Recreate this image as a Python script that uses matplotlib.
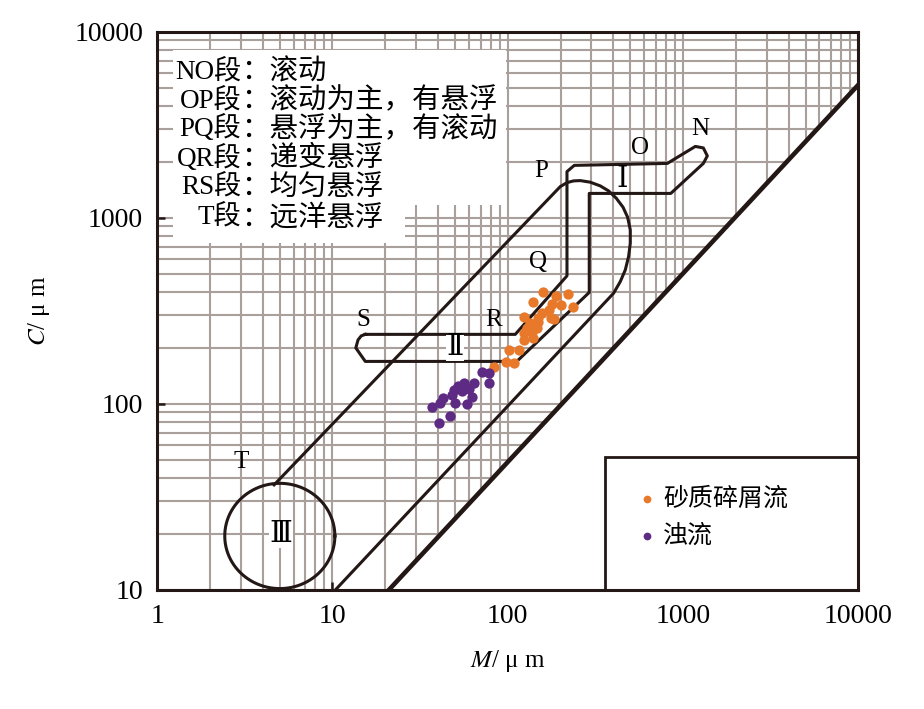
import numpy as np
import matplotlib.pyplot as plt
from matplotlib.patches import Rectangle

plt.rcParams['font.family'] = ['Liberation Serif', 'DejaVu Serif', 'Noto Sans CJK SC']
plt.rcParams['mathtext.fontset'] = 'stix'

# sample points (M, C in um)
sand_m = [158.8, 189.1, 220.6, 138.5, 178.7, 202.0, 234.3, 171.0, 156.7, 124.2, 147.9, 176.4, 184.2,
          133.2, 148.7, 128.7, 146.7, 123.1, 137.4, 124.2, 139.3, 101.1, 115.2, 98.0, 108.9, 83.0]
sand_c = [401.6, 380.7, 390.3, 352.3, 343.6, 339.4, 331.1, 320.3, 307.4, 294.7, 288.9, 288.9, 286.4,
          271.6, 277.0, 255.3, 255.3, 239.9, 244.7, 220.9, 227.3, 195.1, 195.1, 168.8, 166.7, 158.7]
turb_m = [71.3, 78.7, 77.7, 56.5, 51.7, 63.8, 49.1, 54.8, 59.8, 48.0, 62.5, 43.0, 50.2, 58.5,
          41.2, 36.9, 47.0, 40.8]
turb_c = [149.2, 147.3, 130.2, 130.2, 125.0, 130.2, 118.9, 117.9, 120.0, 111.8, 109.4, 107.3, 101.6, 99.6,
          101.6, 96.7, 86.5, 78.7]

# NOPQRS outline (fields I and II)
seg_m = [15.4, 110.4, 217.7, 217.7, 239.6, 813, 1175, 1305, 1375, 1305, 851, 291.7, 291.7, 112.6,
         15.4, 13.6, 14.0, 14.6, 15.4]
seg_c = [236.5, 236.5, 487.9, 1774, 1916, 1963, 2423, 2378, 2154, 1963, 1354, 1354, 397.6, 169.2,
         169.2, 200, 220.8, 232.1, 236.5]

# outer envelope
env_m = [4.65, 199.3, 217.7, 237.4, 259.2, 295.6, 337.2, 376.0, 415.9, 454.4, 482.7, 500, 500, 489,
         468.3, 438.5, 401.6, 10.4]
env_c = [36.7, 1473, 1548, 1581, 1587, 1556, 1486, 1397, 1276, 1142, 1009, 862, 731, 620,
         525.3, 454.5, 393.7, 10]

# boundary line
bound_m = [21, 10000]
bound_c = [10, 5200]

# field III circle (log centre / radii)
circ_lm, circ_lc = 0.70, 1.29
circ_rm, circ_rc = 0.314, 0.283

seg_labels = ['N', 'O', 'P', 'Q', 'R', 'S', 'T']
seg_lab_m = [1254, 570, 155.3, 149.3, 82.7, 14.98, 3.01]
seg_lab_c = [3010, 2378, 1789, 580, 282.8, 282.8, 48.8]

field_labels = ['Ⅰ', 'Ⅱ', 'Ⅲ']
field_m = [450, 50.2, 5.1]
field_c = [1601, 200, 19.8]

note_pre = ['NO段', 'OP段', 'PQ段', 'QR段', 'RS段', 'T段']
note_txt = ['：滚动', '：滚动为主，有悬浮', '：悬浮为主，有滚动', '：递变悬浮', '：均匀悬浮', '：远洋悬浮']

dark = '#231815'

fig = plt.figure(figsize=(9.24, 7.09), dpi=100)
ax = fig.add_axes([0.170, 0.168, 0.759, 0.787])
ax.set_xscale('log')
ax.set_yscale('log')
ax.set_xlim(1, 10000)
ax.set_ylim(10, 10000)
ax.set_axisbelow(True)
ax.grid(which='both', color='#a99f9b', linewidth=1.5)

# white area under boundary line
ax.fill([bound_m[0], bound_m[1], bound_m[1]], [bound_c[0], bound_c[1], bound_c[0]],
        color='white', zorder=1, lw=0)

# white background of notes
ax.add_patch(Rectangle((0.023, 0.690), 0.474, 0.278, transform=ax.transAxes,
                       facecolor='white', edgecolor='none', zorder=1))
ax.add_patch(Rectangle((0.023, 0.622), 0.331, 0.070, transform=ax.transAxes,
                       facecolor='white', edgecolor='none', zorder=1))

ax.plot(bound_m, bound_c, color=dark, lw=3.3, zorder=3)
ax.plot(env_m, env_c, color=dark, lw=2.2, zorder=3)
ax.plot(seg_m, seg_c, color=dark, lw=2.2, zorder=3)
t = np.linspace(0, 2 * np.pi, 200)
ax.plot(10 ** (circ_lm + circ_rm * np.cos(t)), 10 ** (circ_lc + circ_rc * np.sin(t)),
        color=dark, lw=2.2, zorder=3)

ax.scatter(sand_m, sand_c, s=55, color='#e8792b', zorder=4, label='砂质碎屑流', linewidths=0)
ax.scatter(turb_m, turb_c, s=55, color='#5d2a84', zorder=4, label='浊流', linewidths=0)

for lab, m, c in zip(seg_labels, seg_lab_m, seg_lab_c):
    ax.text(m, c, lab, fontsize=18, ha='center', va='center', zorder=5)
for i, (lab, m, c) in enumerate(zip(field_labels, field_m, field_c)):
    bb = None if i == 0 else dict(facecolor='white', edgecolor='none', pad=0.3)
    ax.text(m, c, lab, fontsize=21, ha='center', va='center', zorder=5, bbox=bb)

ys = [0.929, 0.877, 0.826, 0.774, 0.722, 0.668]
for p, s, y in zip(note_pre, note_txt, ys):
    ax.text(0.12, y, p, transform=ax.transAxes, fontsize=19.5, ha='right', va='center', zorder=5)
    ax.text(0.12, y, s, transform=ax.transAxes, fontsize=20.5, ha='left', va='center', zorder=5,
            family=['Noto Sans CJK SC'], fontweight='light')

# legend frame
ax.add_patch(Rectangle((0.639, 0.0), 0.361, 0.238, transform=ax.transAxes,
                       facecolor='white', edgecolor=dark, lw=2, zorder=5))
leg = ax.legend(loc='upper left', bbox_to_anchor=(0.645, 0.228), frameon=False,
                markerscale=0.75, handletextpad=0.05, labelspacing=0.45, handlelength=1.2,
                prop={'family': ['Noto Sans CJK SC'], 'size': 18, 'weight': 'light'})
leg.set_zorder(6)

ax.set_xticks([1, 10, 100, 1000, 10000])
ax.set_xticklabels(['1', '10', '100', '1000', '10000'])
ax.set_yticks([10, 100, 1000, 10000])
ax.set_yticklabels(['10', '100', '1000', '10000'])
ax.tick_params(which='major', direction='in', length=6, width=1.8, labelsize=20, pad=10,
               color=dark)
ax.tick_params(which='minor', length=0)
for sp in ax.spines.values():
    sp.set_linewidth(2.2)
    sp.set_color(dark)
    sp.set_zorder(7)

ax.set_xlabel('$M$/ μ m', fontsize=18, labelpad=14)
ax.set_ylabel('$C$/ μ m', fontsize=18, labelpad=16)

fig.savefig('out.png', dpi=100)
